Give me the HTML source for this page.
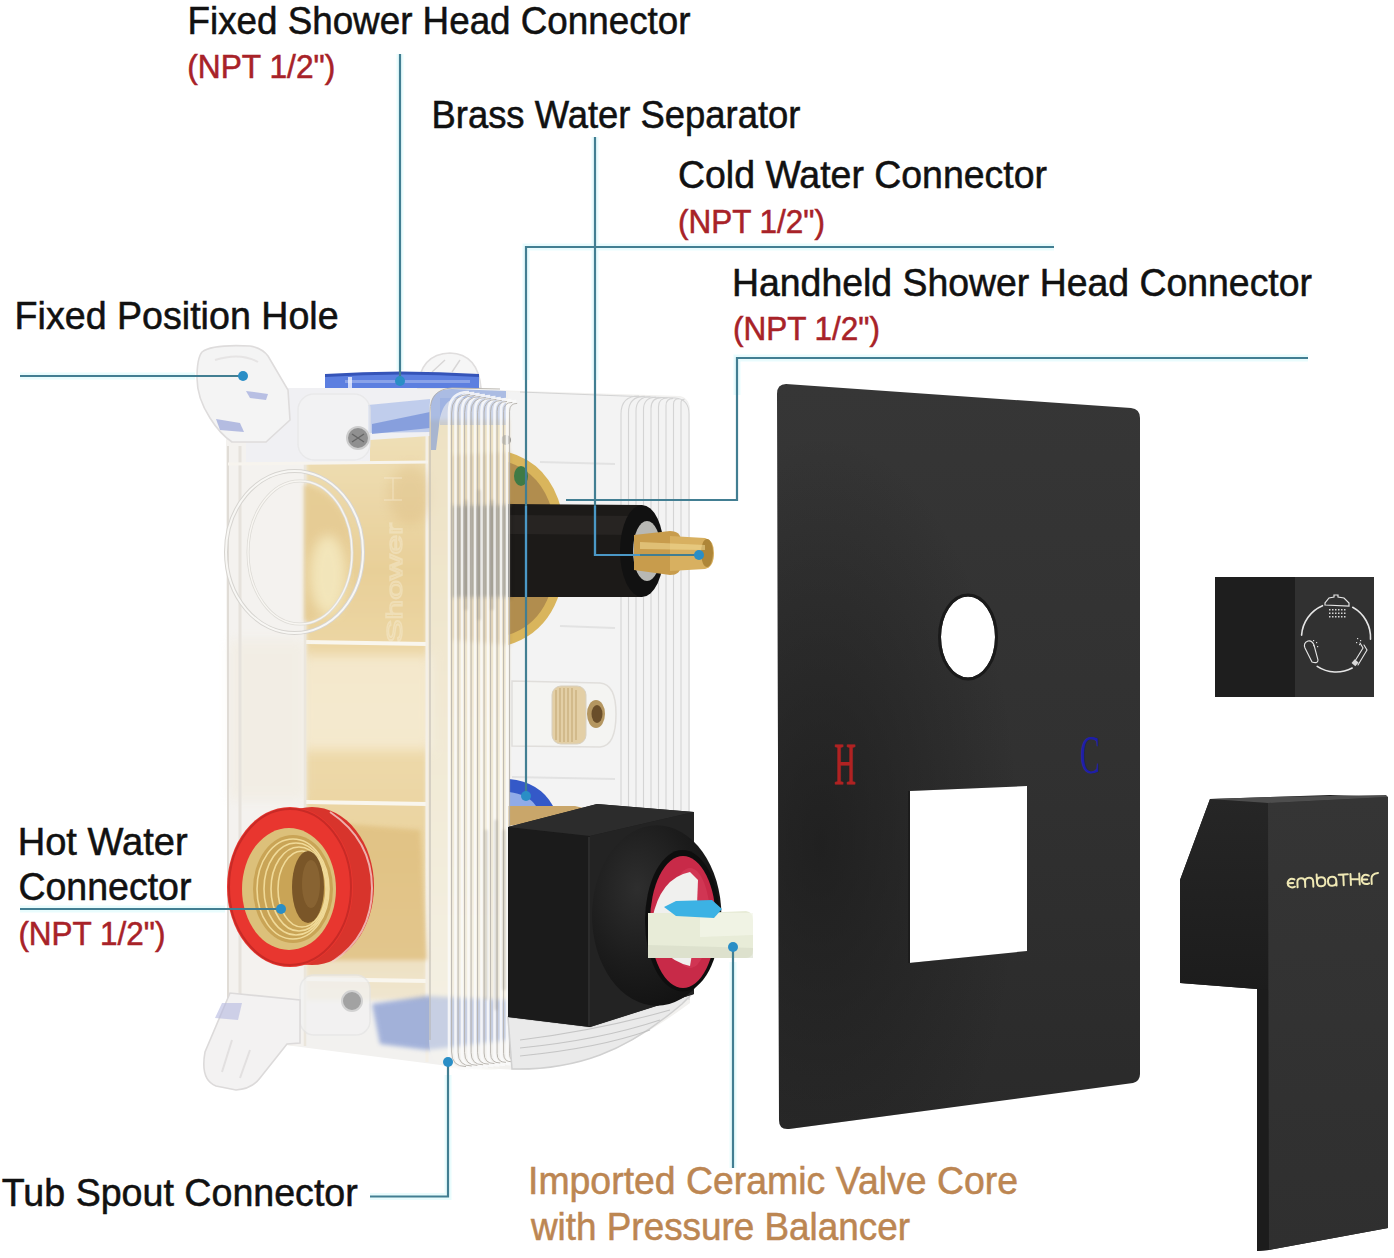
<!DOCTYPE html>
<html><head><meta charset="utf-8">
<style>
html,body{margin:0;padding:0;background:#fff;width:1394px;height:1258px;overflow:hidden}
svg{display:block}
.t{font-family:"Liberation Sans",sans-serif;fill:#111}
.r{font-family:"Liberation Sans",sans-serif;fill:#a82228}
.o{font-family:"Liberation Sans",sans-serif;fill:#bc8652}
</style></head><body>
<svg width="1394" height="1258" viewBox="0 0 1394 1258">
<defs>
  <linearGradient id="plateG" x1="0" y1="0" x2="0" y2="1">
    <stop offset="0" stop-color="#363636"/>
    <stop offset="0.5" stop-color="#313131"/>
    <stop offset="1" stop-color="#2a2a2a"/>
  </linearGradient>
  <radialGradient id="plateDark" cx="0.12" cy="0.62" r="0.55">
    <stop offset="0" stop-color="#1a1a1a" stop-opacity="0.7"/>
    <stop offset="1" stop-color="#1a1a1a" stop-opacity="0"/>
  </radialGradient>

  <linearGradient id="goldG" x1="0" y1="0" x2="0" y2="1">
    <stop offset="0" stop-color="#efe0b8"/>
    <stop offset="0.25" stop-color="#e8cf98"/>
    <stop offset="0.5" stop-color="#efdcae"/>
    <stop offset="0.75" stop-color="#e9d29e"/>
    <stop offset="1" stop-color="#f0e6d0"/>
  </linearGradient>
  <linearGradient id="goldG2" x1="0" y1="0" x2="0" y2="1">
    <stop offset="0" stop-color="#e8d3a0"/>
    <stop offset="1" stop-color="#f4ecd8"/>
  </linearGradient>
  <filter id="b2" x="-10%" y="-10%" width="120%" height="120%"><feGaussianBlur stdDeviation="2"/></filter>
  <filter id="b3" x="-20%" y="-20%" width="140%" height="140%"><feGaussianBlur stdDeviation="6"/></filter>
  <filter id="b1" x="-50%" y="-10%" width="200%" height="120%"><feGaussianBlur stdDeviation="1.5"/></filter>
</defs>
<rect width="1394" height="1258" fill="#fff"/>

<!-- ===== VALVE BOX (placeholder) ===== -->

<g id="box">
  <!-- whole translucent body base -->
  <path fill="#f2f1ef" d="M226,440 L246,388 L430,388 L680,396 Q690,398 690,412 L690,1003 Q640,1040 600,1055 Q560,1070 520,1070 L456,1067 L293,1046 Q236,1040 228,1000 Z"/>
  <!-- right face -->
  <path fill="#f3f3f3" d="M508,392 L680,397 Q690,399 690,412 L690,1000 L508,1000 Z"/>
  <!-- gold interior (front) -->
  <path fill="url(#goldG)" filter="url(#b2)" d="M306,434 L427,428 L427,1000 L306,1000 Z"/>
  <!-- gold tint through ridges -->
  <path fill="url(#goldG2)" filter="url(#b2)" d="M427,420 L508,420 L508,1000 L427,1000 Z"/>
  <!-- pale band -->
  <rect x="300" y="655" width="132" height="95" fill="#f8f1e0" opacity="0.65" filter="url(#b3)"/>
  <g stroke="#f9f6ee" stroke-width="4">
    <path d="M306,642 L427,644"/><path d="M306,802 L427,804"/><path d="M306,979 L427,981"/>
  </g>
  <!-- left column -->
  <path fill="#f4f2ef" d="M226,440 L306,434 L306,1046 L293,1046 Q236,1040 228,1000 Z"/>
  <path fill="#efe6d2" opacity="0.35" d="M230,640 L306,640 L306,800 L230,800 Z" filter="url(#b3)"/>
  <path d="M240,446 L240,1030" stroke="#e6e2dc" stroke-width="3"/>
  <path d="M228,446 L228,1000" stroke="#e0dcd6" stroke-width="2"/>
  <path d="M305,436 L305,1046" stroke="#ebe6dc" stroke-width="2.5"/>
  <path d="M427,428 L427,1062" stroke="#f4efe6" stroke-width="3"/>
  <!-- big left circle -->
  <path fill="#e6cc94" opacity="0.9" filter="url(#b2)" d="M304,484 Q350,498 352,552 Q350,608 304,622 Z"/>
  <ellipse cx="328" cy="575" rx="18" ry="40" fill="#f6ecc4" opacity="0.8" filter="url(#b3)"/>
  <ellipse cx="410" cy="495" rx="22" ry="30" fill="#d8b474" opacity="0.3" filter="url(#b3)"/>
  <ellipse cx="294.5" cy="552" rx="68.5" ry="81" fill="none" stroke="#d6d4d0" stroke-width="4"/>
  <ellipse cx="294.5" cy="552" rx="68.5" ry="81" fill="none" stroke="#f8f7f4" stroke-width="2"/>
  <ellipse cx="300" cy="552.5" rx="52" ry="71.5" fill="none" stroke="#dddbd6" stroke-width="3"/>
  <ellipse cx="300" cy="552.5" rx="52" ry="71.5" fill="none" stroke="#f8f6f2" stroke-width="1.4"/>
  <g opacity="0.35" fill="none" stroke="#fbf6e6" stroke-width="1.4">
    <text x="-643" y="402" transform="rotate(-90)" font-family="Liberation Sans" font-size="22" textLength="120" lengthAdjust="spacingAndGlyphs">Shower</text>
    <path d="M384,478 L402,478 M393,478 L393,500 M384,500 L402,500"/>
  </g>
  <!-- top bar -->
  <path fill="#f0f0f3" d="M246,388 L430,388 L430,436 L370,440 L370,462 L246,462 Z"/>
  <path d="M228,464 L428,462" stroke="#f7f4ee" stroke-width="3"/>
  <path fill="#b4c4ea" opacity="0.8" d="M368,405 L430,399 L430,432 L368,433 Z"/>
  <path fill="#7c96da" opacity="0.85" d="M372,424 L430,412 L430,428 L372,434 Z"/>
  <!-- boss around screw -->
  <rect x="298" y="394" width="72" height="66" rx="16" fill="#f3f3f4" opacity="0.7" stroke="#e6e6e6" stroke-width="1.5"/>
  <circle cx="358" cy="438" r="11" fill="#909090" stroke="#cdcdcd" stroke-width="2"/>
  <path d="M352,434 L364,442 M364,434 L352,442" stroke="#666" stroke-width="1.4"/>
  <!-- top-middle ear -->
  <path fill="#f6f6f6" stroke="#e0dede" stroke-width="1.6" d="M418,388 Q420,354 450,353 Q478,354 481,388 Z"/>
  <path fill="none" stroke="#d8d6d6" stroke-width="1.4" d="M432,372 L445,360 M452,372 L460,360"/>
  <!-- blue top ring -->
  <path fill="#5c7fe0" d="M325,376 Q400,371 479,376 L479,388 L325,388 Z"/>
  <path fill="#3554b8" d="M325,374 Q400,369 479,374 L479,377 Q400,372 325,377 Z"/>
  <path fill="#a6b9ee" opacity="0.6" d="M345,380 L470,380 L470,383 L345,383 Z"/>
  <path fill="#f0f4ff" opacity="0.8" d="M348,377 L352,377 L352,388 L348,388 Z"/>
  <!-- top-left ear -->
  <path fill="#f4f4f4" stroke="#dedcdc" stroke-width="1.6" d="M202,352 Q212,344 250,346 Q262,348 268,356 L288,390 L290,420 L266,442 L232,442 Q220,434 210,418 Q197,398 197,378 Q197,358 202,352 Z"/>
  <path fill="none" stroke="#e6e4e4" stroke-width="2" d="M215,360 Q240,352 258,362"/>
  <path fill="#a9b2de" opacity="0.8" d="M246,391 L268,394 L266,400 L250,398 Z"/>
  <path fill="#a4aedc" opacity="0.8" d="M216,419 L240,423 L244,432 L220,430 Z"/>
  <!-- bottom boss + screw -->
  <rect x="300" y="975" width="70" height="60" rx="14" fill="#f2f2f2" opacity="0.7" stroke="#e4e4e4" stroke-width="1.5"/>
  <circle cx="352" cy="1001" r="10" fill="#a2a2a2" stroke="#d2d2d2" stroke-width="2"/>
  <!-- blue bottom patch -->
  <path fill="#6e88cc" opacity="0.6" filter="url(#b2)" d="M372,1004 L427,996 L508,1000 L508,1040 L427,1050 L380,1044 Z"/>
  <!-- bottom-left ear -->
  <path fill="#f3f2f2" stroke="#dcdada" stroke-width="1.6" d="M230,993 L205,1052 Q200,1080 216,1086 L236,1090 Q252,1089 260,1078 L287,1044 L300,1043 L300,1000 Z"/>
  <path fill="none" stroke="#e2e0e0" stroke-width="2" d="M232,1040 L222,1072 M250,1050 L240,1078"/>
  <path fill="#b4b8e0" opacity="0.6" d="M222,1003 L242,1003 L238,1020 L215,1018 Z"/>
  <!-- right face ridges -->
  <g stroke="#d4d4d4" stroke-width="1.1" fill="none">
    <path d="M621,1000 L621,414.0 Q621,396.0 639.0,396.0"/>
    <path d="M628.5,1000 L628.5,412.59999999999997 Q628.5,396.4 644.7,396.4"/>
    <path d="M636,1000 L636,411.2 Q636,396.8 650.4,396.8"/>
    <path d="M643.5,1000 L643.5,409.8 Q643.5,397.2 656.1,397.2"/>
    <path d="M651,1000 L651,408.40000000000003 Q651,397.6 661.8,397.6"/>
    <path d="M658.5,1000 L658.5,407.0 Q658.5,398.0 667.5,398.0"/>
    <path d="M666,1000 L666,405.59999999999997 Q666,398.4 673.2,398.4"/>
    <path d="M673.5,1000 L673.5,404.2 Q673.5,398.8 678.9,398.8"/>
    <path d="M681,1000 L681,402.8 Q681,399.2 684.6,399.2"/>
    <path d="M689,1000 L689,414 Q689,399 675,398 L520,392"/>
  </g>
  <g stroke="#e2e2e2" stroke-width="2" fill="none">
    <path d="M540,462 L615,464"/>
    <path d="M560,626 L615,628"/>
    <path d="M512,777 L615,779"/>
  </g>
  <!-- knurled insert boss -->
  <path fill="#f4f4f2" stroke="#e0dedb" stroke-width="1.5" d="M512,681 L600,683 Q616,684 616,714 Q616,746 600,747 L512,746 Z"/>
  <rect x="552" y="686" width="34" height="58" rx="9" fill="#e3cfa6" stroke="#d8d0c0" stroke-width="1"/>
  <g stroke="#b89a64" stroke-width="1" opacity="0.8">
    <path d="M556,690 L556,740 M560,688 L560,742 M564,688 L564,742 M568,688 L568,742 M572,688 L572,742 M576,690 L576,740"/>
  </g>
  <ellipse cx="596" cy="714" rx="9" ry="14" fill="#b49660"/>
  <ellipse cx="597" cy="714" rx="5.5" ry="9" fill="#6a4e2a"/>

  <!-- blue ring near cold connector -->
  <path fill="#3459c8" d="M509,806 L509,779 Q540,782 553,806 Z"/>
  <path fill="#a8bff0" opacity="0.8" d="M509,806 L509,792 Q528,794 536,806 Z"/>
  <path fill="#c9a66a" d="M508,806 L575,806 L600,812 L508,826 Z"/>

  <!-- brass flange (right half visible) -->
  <path fill="#d9b55c" d="M508,452 Q565,468 566,548 Q565,628 508,645 Z"/>
  <path fill="#b18d4e" d="M508,462 Q556,478 557,548 Q556,620 508,635 Z"/>
  <ellipse cx="521" cy="476" rx="7" ry="10" fill="#3f7a45"/>
  <circle cx="506" cy="440" r="5" fill="#555" opacity="0.6"/>
  <!-- black cylinder -->
  <path fill="#1c1a18" d="M508,504 L642,505 L642,597 L508,597 Z"/>
  <path fill="#2e2c2a" opacity="0.6" d="M508,515 L642,516 L642,535 L508,534 Z"/>
  <ellipse cx="642" cy="551" rx="22" ry="46" fill="#111"/>
  <ellipse cx="647" cy="551" rx="14" ry="30" fill="#b8b8b4"/>
  <!-- brass pin -->
  <path fill="#c89c4c" d="M634,535 L670,531 Q681,531 681,541 L681,565 Q681,575 670,575 L634,570 Z"/>
  <path fill="#d8b060" d="M670,536 L705,538 Q714,540 714,553 Q714,567 705,569 L670,571 Z"/>
  <ellipse cx="707" cy="553" rx="6" ry="14" fill="#ae8638"/>
  <path fill="#f2dc98" opacity="0.55" d="M640,542 L705,545 L705,550 L640,549 Z"/>

  <!-- ridge section -->
  <g>
    <!-- things seen through ridges -->
    <path fill="#1e1c1a" opacity="0.55" filter="url(#b2)" d="M452,505 L510,504 L510,598 L452,598 Z"/>
    <path fill="#b8955a" opacity="0.45" filter="url(#b2)" d="M452,455 L510,452 L510,505 L452,505 Z M452,598 L510,598 L510,645 L452,640 Z"/>
    <path fill="#f5f3ef" opacity="0.45" d="M429,410 Q429,388 450,388 L490,388 Q510,389 510,410 L510,1050 Q510,1070 490,1070 L450,1068 Q429,1064 429,1040 Z"/>
    <path fill="#6f8fd8" opacity="0.55" d="M431,402 Q434,389 452,389 L506,391 L506,398 L456,398 Q444,400 440,418 L436,450 L431,450 Z"/>
    <path fill="#8aa4e0" opacity="0.35" d="M440,398 L506,398 L506,425 L440,425 Z"/>
    <g stroke="#fbfbfb" stroke-width="2.6" fill="none" opacity="0.85">
      <path d="M465.0,1069.0 Q449,1069.0 449,1053.0 L449,412.0 Q449,392.0 469.0,392.0"/>
      <path d="M470.7,1068.4 Q455.5,1068.4 455.5,1053.2 L455.5,411.8 Q455.5,393.0 474.3,393.0"/>
      <path d="M476.4,1067.8 Q462,1067.8 462,1053.3999999999999 L462,411.6 Q462,394.0 479.6,394.0"/>
      <path d="M482.1,1067.2 Q468.5,1067.2 468.5,1053.6000000000001 L468.5,411.4 Q468.5,395.0 484.9,395.0"/>
      <path d="M487.8,1066.6 Q475,1066.6 475,1053.8 L475,411.2 Q475,396.0 490.2,396.0"/>
      <path d="M493.5,1066.0 Q481.5,1066.0 481.5,1054.0 L481.5,411.0 Q481.5,397.0 495.5,397.0"/>
      <path d="M499.2,1065.4 Q488,1065.4 488,1054.2 L488,410.8 Q488,398.0 500.8,398.0"/>
      <path d="M504.9,1064.8 Q494.5,1064.8 494.5,1054.3999999999999 L494.5,410.6 Q494.5,399.0 506.1,399.0"/>
      <path d="M510.6,1064.2 Q501,1064.2 501,1054.6000000000001 L501,410.4 Q501,400.0 511.4,400.0"/>
      <path d="M515.8,1063.6 Q507,1063.6 507,1054.8 L507,410.2 Q507,401.0 516.2,401.0"/>
    </g>
    <g stroke="#b4b0aa" stroke-width="1" fill="none" opacity="0.9">
      <path d="M466.0,1066.6 Q451.6,1066.6 451.6,1052.0 L451.6,413.0 Q451.6,394.4 470.0,394.4"/>
      <path d="M471.7,1066.0 Q458.1,1066.0 458.1,1052.2 L458.1,412.8 Q458.1,395.4 475.3,395.4"/>
      <path d="M477.4,1065.3999999999999 Q464.6,1065.3999999999999 464.6,1052.3999999999999 L464.6,412.6 Q464.6,396.4 480.6,396.4"/>
      <path d="M483.1,1064.8 Q471.1,1064.8 471.1,1052.6000000000001 L471.1,412.4 Q471.1,397.4 485.9,397.4"/>
      <path d="M488.8,1064.1999999999998 Q477.6,1064.1999999999998 477.6,1052.8 L477.6,412.2 Q477.6,398.4 491.2,398.4"/>
      <path d="M494.5,1063.6 Q484.1,1063.6 484.1,1053.0 L484.1,412.0 Q484.1,399.4 496.5,399.4"/>
      <path d="M500.2,1063.0 Q490.6,1063.0 490.6,1053.2 L490.6,411.8 Q490.6,400.4 501.8,400.4"/>
      <path d="M505.9,1062.3999999999999 Q497.1,1062.3999999999999 497.1,1053.3999999999999 L497.1,411.6 Q497.1,401.4 507.1,401.4"/>
      <path d="M511.6,1061.8 Q503.6,1061.8 503.6,1053.6000000000001 L503.6,411.4 Q503.6,402.4 512.4,402.4"/>
      <path d="M516.8,1061.1999999999998 Q509.6,1061.1999999999998 509.6,1053.8 L509.6,411.2 Q509.6,403.4 517.2,403.4"/>
      <path d="M430,1040 L430,412 Q430,389 452,388 L500,389"/>
    </g>
    <g stroke="#6e6a66" stroke-width="2" opacity="0.35" filter="url(#b1)">
      <path d="M466,500 L466,610 M479,490 L479,620 M492,500 L492,610"/>
      <path d="M486,830 L486,1000 M496,820 L496,1010 M504,830 L504,990"/>
    </g>
  </g>
  <!-- hot connector -->
  <path fill="#e0c080" opacity="0.8" filter="url(#b2)" d="M300,820 L420,830 L427,960 L300,960 Z"/>
  <ellipse cx="312" cy="886" rx="62" ry="79" fill="#d8342c"/>
  <path fill="none" stroke="#f4d0cc" stroke-width="2" opacity="0.8" d="M330,812 Q372,840 372,888 Q372,936 332,962"/>
  <ellipse cx="290" cy="887" rx="63" ry="80" fill="#e8362f"/>
  <ellipse cx="290" cy="887" rx="61" ry="78" fill="none" stroke="#c82a26" stroke-width="2"/>
  <ellipse cx="289" cy="889" rx="47" ry="61" fill="#dcc07a"/>
  <ellipse cx="293" cy="889" rx="40" ry="54" fill="#c9a456"/>
  <g fill="none" stroke="#f0da98" stroke-width="1.6">
    <ellipse cx="293" cy="889" rx="36" ry="50"/>
    <ellipse cx="296" cy="889" rx="32" ry="46"/>
    <ellipse cx="299" cy="889" rx="28" ry="42"/>
    <ellipse cx="302" cy="889" rx="24" ry="38"/>
  </g>
  <ellipse cx="308" cy="887" rx="16" ry="36" fill="#7a5628"/>
  <ellipse cx="311" cy="884" rx="9" ry="24" fill="#8e6a36" opacity="0.7"/>

  <!-- bottom tray under cube -->
  <path fill="#eaeaea" stroke="#d0d0d0" stroke-width="1.5" d="M508,1017 L590,1027 L692,994 L682,1004 Q640,1040 600,1055 Q560,1070 512,1069 Z"/>
  <g stroke="#bcbcbc" stroke-width="1.1" fill="none" opacity="0.8">
    <path d="M520,1040 Q600,1030 670,1010"/>
    <path d="M520,1048 Q600,1040 660,1020"/>
    <path d="M520,1056 Q600,1048 650,1030"/>
  </g>

  <!-- black valve cube -->
  <path fill="#1e1e1e" d="M508,827 L597,804 L694,812 L694,994 L590,1027 L508,1017 Z"/>
  <path fill="#1b1b1b" d="M508,827 L590,836 L590,1027 L508,1017 Z"/>
  <path fill="#2c2c2c" d="M508,827 L597,804 L694,812 L590,836 Z"/>
  <path fill="#232323" d="M590,836 L694,812 L694,994 L590,1027 Z"/>
  <path d="M589,837 L589,1026" stroke="#3a3a3a" stroke-width="1.2"/>
  <!-- rubber ring -->
  <defs>
    <radialGradient id="ringG" cx="0.35" cy="0.35" r="0.7">
      <stop offset="0" stop-color="#2e2e2e"/>
      <stop offset="0.6" stop-color="#1c1c1c"/>
      <stop offset="1" stop-color="#121212"/>
    </radialGradient>
  </defs>
  <ellipse cx="656.7" cy="915.5" rx="64.7" ry="90.2" fill="url(#ringG)"/>
  <ellipse cx="682.5" cy="920.7" rx="37.5" ry="70.7" fill="#0e0e0e"/>
  <ellipse cx="683" cy="922" rx="33" ry="66" fill="#c82a48"/>
  <ellipse cx="690" cy="918" rx="20" ry="50" fill="#d43a58" opacity="0.7"/>
  <path fill="#f0f0ee" d="M690,872 Q660,878 652,920 Q656,958 690,966 L696,930 L698,880 Z"/>
  <!-- lever -->
  <path fill="#e8ecd8" d="M648,913 L700,913 L746,911 Q753,912 753,920 L753,950 Q753,958 746,958 L648,958 Z"/>
  <path fill="#f4f6ea" opacity="0.7" d="M700,913 L753,913 L753,935 L700,937 Z"/>
  <path fill="#d4d8c4" opacity="0.55" d="M648,945 L753,948 L753,958 L648,958 Z"/>
  <path fill="#3cb2e4" d="M664,907 L676,901 L712,900 L722,909 L714,918 L676,916 Z"/>
</g>

<!-- ===== PLATE ===== -->
<path id="plate" fill="url(#plateG)" d="M786,384 L1131,408 Q1140,409 1140,418 L1140,1074 Q1140,1081 1133,1083 L789,1129 Q779,1130 779,1120 L777,394 Q777,384 786,384 Z
 M995,637 A27,40.5 0 1 0 941,637 A27,40.5 0 1 0 995,637 Z
 M909,791 L1027,786 L1027,951 L909,963 Z" fill-rule="evenodd"/>
<path fill="url(#plateDark)" d="M786,384 L1131,408 Q1140,409 1140,418 L1140,1074 Q1140,1081 1133,1083 L789,1129 Q779,1130 779,1120 L777,394 Q777,384 786,384 Z
 M995,637 A27,40.5 0 1 0 941,637 A27,40.5 0 1 0 995,637 Z
 M909,791 L1027,786 L1027,951 L909,963 Z" fill-rule="evenodd"/>
<ellipse cx="968" cy="637" rx="28.5" ry="42" fill="none" stroke="#1a1a1a" stroke-width="3"/>
<path d="M909,791 L909,963" stroke="#1c1c1c" stroke-width="2"/>
<text x="834" y="783.5" font-family="Liberation Serif" font-size="60" fill="#b02222" stroke="#b02222" stroke-width="1" textLength="21.5" lengthAdjust="spacingAndGlyphs">H</text>
<text x="1080" y="773" font-family="Liberation Serif" font-size="54" fill="#1e1ea8" textLength="20" lengthAdjust="spacingAndGlyphs">C</text>

<!-- ===== SMALL CUBE ===== -->
<rect x="1215" y="577" width="159" height="120" fill="#1e1e1e"/>
<rect x="1295" y="577" width="79" height="120" fill="#313131"/>
<g fill="none" stroke="#e6e6e6" stroke-width="1.6" stroke-linecap="round">
  <path d="M1322.5,605.7 A34.5,34.5 0 0 0 1301.6,635.1"/>
  <path d="M1352.7,607.3 A34.5,34.5 0 0 1 1370.5,639.3"/>
  <path d="M1317.2,666.4 A34.5,34.5 0 0 0 1352.2,668"/>
  <path stroke-width="1.2" d="M1325,605 L1349,606 L1349,603 L1344,598 L1338,597 L1338,595 L1334,595 L1334,597 L1329,598 L1325,603 Z"/>
  <path stroke-width="1.1" d="M1312,662 L1305,648 Q1303,643 1308,641 Q1312,640 1314,645 L1318,660 Q1318,664 1312,662 Z"/>
  <path stroke-width="1.1" d="M1364,645 L1367,650 L1358,665 M1360,643 L1363,648 L1355,661"/>
</g>
<g fill="#d8d8d8">
  <rect x="1329" y="609" width="1.5" height="1.5"/><rect x="1332" y="609" width="1.5" height="1.5"/><rect x="1335" y="609" width="1.5" height="1.5"/><rect x="1338" y="609" width="1.5" height="1.5"/><rect x="1341" y="609" width="1.5" height="1.5"/><rect x="1344" y="609" width="1.5" height="1.5"/>
  <rect x="1329" y="612.5" width="1.5" height="1.5"/><rect x="1332" y="612.5" width="1.5" height="1.5"/><rect x="1335" y="612.5" width="1.5" height="1.5"/><rect x="1338" y="612.5" width="1.5" height="1.5"/><rect x="1341" y="612.5" width="1.5" height="1.5"/><rect x="1344" y="612.5" width="1.5" height="1.5"/>
  <rect x="1329" y="616" width="1.5" height="1.5"/><rect x="1332" y="616" width="1.5" height="1.5"/><rect x="1335" y="616" width="1.5" height="1.5"/><rect x="1338" y="616" width="1.5" height="1.5"/><rect x="1341" y="616" width="1.5" height="1.5"/><rect x="1344" y="616" width="1.5" height="1.5"/>
  <rect x="1313" y="640" width="1.2" height="1.2"/><rect x="1316" y="642" width="1.2" height="1.2"/><rect x="1313" y="645" width="1.2" height="1.2"/><rect x="1317" y="646" width="1.2" height="1.2"/>
  <rect x="1357" y="638" width="1.2" height="1.2"/><rect x="1360" y="640" width="1.2" height="1.2"/><rect x="1356" y="642" width="1.2" height="1.2"/><rect x="1359" y="644" width="1.2" height="1.2"/>
  <rect x="1353" y="660" width="5" height="5" transform="rotate(40 1355 662)"/>
</g>

<!-- ===== HANDLE ===== -->
<defs>
  <linearGradient id="hL" x1="0" y1="0" x2="0" y2="1"><stop offset="0" stop-color="#262626"/><stop offset="1" stop-color="#1c1c1c"/></linearGradient>
  <linearGradient id="hF" x1="0" y1="0" x2="0" y2="1"><stop offset="0" stop-color="#353535"/><stop offset="1" stop-color="#2f2f2f"/></linearGradient>
</defs>
<path fill="#1e1e1e" d="M1210,799 L1330,795 L1388,797 L1388,1228 L1269,1250 L1257,1251 L1257,989 L1180,983 L1180,880 Z"/>
<path fill="url(#hL)" d="M1210,799 L1268,803 L1268,990 L1257,989 L1180,983 L1180,880 Z"/>
<path fill="#1c1c1c" d="M1257,989 L1269,990 L1269,1250 L1257,1251 Z"/>
<path fill="url(#hF)" d="M1268,803 L1388,797 L1388,1228 L1269,1250 Z"/>
<path fill="#4e4e4e" d="M1210,799 L1268,803 L1388,797 L1386,795 L1270,797 Z"/>
<g transform="translate(1287.8,887.8) rotate(-2.6)" fill="none" stroke="#efe8b4" stroke-width="2" stroke-linecap="round" stroke-linejoin="round">
  <path d="M7,-8 Q4,-9.8 1.6,-7.8 Q0,-6.3 0,-4.5 Q0,-2.4 1.6,-1.2 Q4,0.6 7.2,-0.8 M0.8,-4.6 L5.5,-4.6"/>
  <path d="M9.8,0 L9.8,-5 Q9.8,-9 13.6,-9 Q17.5,-9 17.5,-5 L17.5,0 M17.5,-5 Q17.5,-9 21.6,-9 Q25.6,-9 25.6,-5 L25.6,0"/>
  <path d="M29.4,-12 L29.4,-4.5 Q29.4,0 33.6,0 Q37.8,0 37.8,-4.5 Q37.8,-9 33.6,-9 Q29.4,-9 29.4,-4.5"/>
  <path d="M48.8,-4.5 Q48.8,0 44.6,0 Q40.4,0 40.4,-4.5 Q40.4,-9 44.6,-9 Q48.8,-9 48.8,-4.5 L48.8,0"/>
  <path d="M51.4,-10.8 L60.6,-10.8 M56,-10.8 L56,0"/>
  <path d="M63.2,-11 L63.2,0 M72,-11 L72,0 M63.2,-5.6 L72,-5.6"/>
  <path d="M81.4,-8.4 Q78,-10.4 75.6,-8.4 Q74.2,-6.8 74.2,-4.6 Q74.2,-2.2 75.6,-1.2 Q78,0.6 81.4,-0.8 M75,-4.8 L79.8,-4.8"/>
  <path d="M84,0 L84,-5.2 Q84,-10.4 90.8,-10.8"/>
</g>

<!-- ===== LINES ===== -->
<g stroke="#e4fbfd" stroke-width="7" fill="none" opacity="0.8">
  <path d="M400,54 L400,370"/>
  <path d="M595,137 L595,380"/>
  <path d="M1054,247 L526,247 L526,380"/>
  <path d="M1308,358 L737,358 L737,395"/>
  <path d="M20,376 L195,376"/>
  <path d="M20,909 L225,909"/>
  <path d="M370,1196.5 L448,1196.5 L448,1075"/>
  <path d="M733,962 L733,1168"/>
</g>
<g stroke="#427e92" stroke-width="2.2" fill="none">
<path d="M400,54 L400,381"/>
  <path d="M595,137 L595,555 L699,555"/>
  <path d="M1054,247 L526,247 L526,796"/>
  <path d="M1308,358 L737,358 L737,500 L566,500"/>
  <path d="M20,376 L243,376"/>
  <path d="M20,909 L281,909"/>
  <path d="M370,1196.5 L448,1196.5 L448,1062"/>
  <path d="M733,947 L733,1168"/>
</g>
<g stroke="#4b98c6" stroke-width="2.2" fill="none">
  <path d="M526,506 L526,597"/>
  <path d="M595,506 L595,555 L640,555"/>
  <path d="M526,830 L526,830"/>
</g>
<g fill="#2a8ec6">
  <circle cx="400" cy="381" r="5"/>
  <circle cx="699" cy="555" r="5"/>
  <circle cx="526" cy="796" r="5"/>
  <circle cx="243" cy="376" r="5"/>
  <circle cx="281" cy="909" r="5"/>
  <circle cx="448" cy="1062" r="5"/>
  <circle cx="733" cy="947" r="5"/>
</g>

<!-- ===== TEXT ===== -->
<g stroke-width="0.55">
<text class="t" stroke="#111" x="187.5" y="33.6" font-size="39" textLength="503" lengthAdjust="spacingAndGlyphs">Fixed Shower Head Connector</text>
<text class="r" stroke="#a82228" x="187.3" y="77.6" font-size="33" textLength="148" lengthAdjust="spacingAndGlyphs">(NPT 1/2")</text>
<text class="t" stroke="#111" x="431.5" y="128.2" font-size="39" textLength="369" lengthAdjust="spacingAndGlyphs">Brass Water Separator</text>
<text class="t" stroke="#111" x="678" y="188" font-size="39" textLength="369" lengthAdjust="spacingAndGlyphs">Cold Water Connector</text>
<text class="r" stroke="#a82228" x="678" y="232.6" font-size="33" textLength="147" lengthAdjust="spacingAndGlyphs">(NPT 1/2")</text>
<text class="t" stroke="#111" x="732" y="296" font-size="39" textLength="580" lengthAdjust="spacingAndGlyphs">Handheld Shower Head Connector</text>
<text class="r" stroke="#a82228" x="733" y="340" font-size="33" textLength="147" lengthAdjust="spacingAndGlyphs">(NPT 1/2")</text>
<text class="t" stroke="#111" x="14.6" y="329" font-size="39" textLength="324" lengthAdjust="spacingAndGlyphs">Fixed Position Hole</text>
<text class="t" stroke="#111" x="17.7" y="854.8" font-size="39" textLength="170" lengthAdjust="spacingAndGlyphs">Hot Water</text>
<text class="t" stroke="#111" x="18.4" y="899.5" font-size="39" textLength="173" lengthAdjust="spacingAndGlyphs">Connector</text>
<text class="r" stroke="#a82228" x="18.4" y="945" font-size="33" textLength="147" lengthAdjust="spacingAndGlyphs">(NPT 1/2")</text>
<text class="t" stroke="#111" x="1.8" y="1205.6" font-size="39" textLength="356" lengthAdjust="spacingAndGlyphs">Tub Spout Connector</text>
<text class="o" stroke="#bc8652" x="528" y="1194" font-size="39" textLength="490" lengthAdjust="spacingAndGlyphs">Imported Ceramic Valve Core</text>
<text class="o" stroke="#bc8652" x="531" y="1239.6" font-size="39" textLength="379" lengthAdjust="spacingAndGlyphs">with Pressure Balancer</text>
</g>
</svg>
</body></html>
